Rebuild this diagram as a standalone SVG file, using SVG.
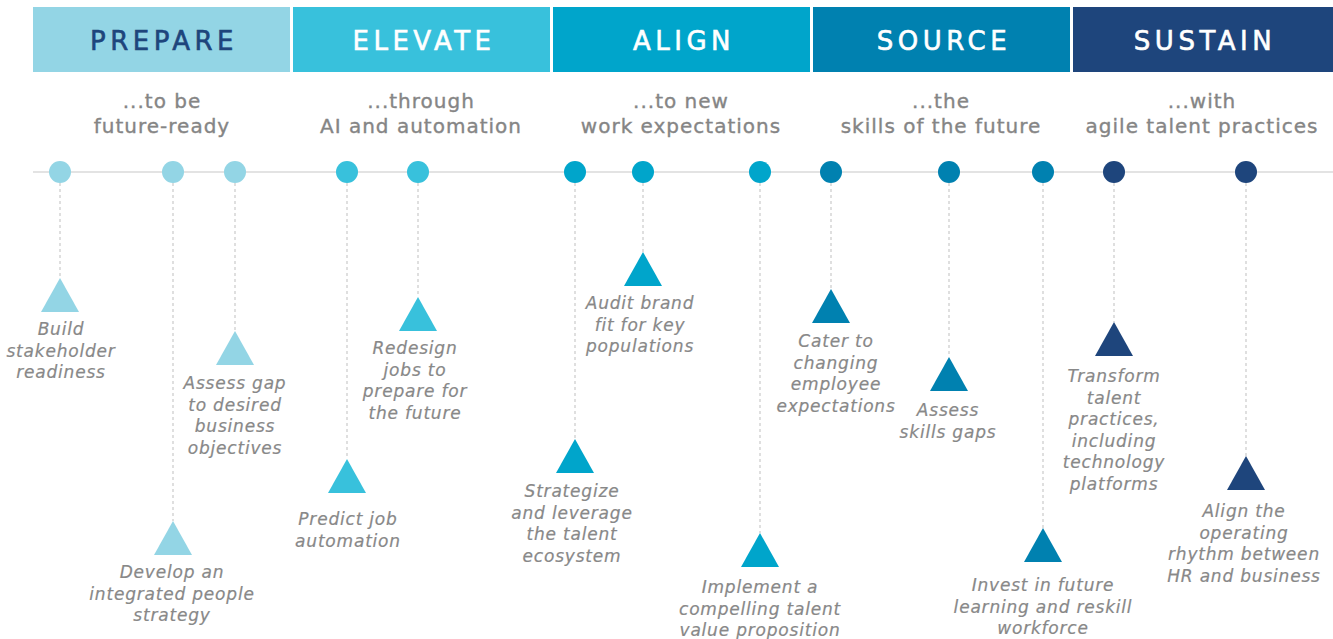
<svg xmlns="http://www.w3.org/2000/svg" width="1333" height="639" viewBox="0 0 1333 639">
<style>
.hd{font-family:"DejaVu Sans",sans-serif;font-size:26px;letter-spacing:4.5px;text-anchor:middle;stroke-width:0.6px}
.sub{font-family:"DejaVu Sans",sans-serif;font-size:20px;letter-spacing:1px;fill:#858585;stroke:#858585;stroke-width:0.35px;text-anchor:middle}
.lb{font-family:"DejaVu Sans",sans-serif;font-size:17px;font-style:italic;letter-spacing:0.8px;fill:#888;stroke:#888;stroke-width:0.2px;text-anchor:middle}
.dash{stroke:#bfbfbf;stroke-width:1;stroke-dasharray:3 3;fill:none}
.c1{fill:#93d5e5}.c2{fill:#38c1dc}.c3{fill:#00a5cb}.c4{fill:#0081b0}.c5{fill:#1e457c}
</style>
<defs>
<polygon id="tri" points="0,0 19,34 -19,34"/>
</defs>
<g id="headers">
<g id="h-prepare"><rect x="33" y="7" width="257" height="65" class="c1"/><text x="164" y="49.5" class="hd" fill="#1e457c" stroke="#1e457c">PREPARE</text></g>
<g id="h-elevate"><rect x="293" y="7" width="257" height="65" class="c2"/><text x="424" y="49.5" class="hd" fill="#fff" stroke="#fff">ELEVATE</text></g>
<g id="h-align"><rect x="553" y="7" width="257" height="65" class="c3"/><text x="684" y="49.5" class="hd" fill="#fff" stroke="#fff">ALIGN</text></g>
<g id="h-source"><rect x="813" y="7" width="257" height="65" class="c4"/><text x="944" y="49.5" class="hd" fill="#fff" stroke="#fff">SOURCE</text></g>
<g id="h-sustain"><rect x="1073" y="7" width="260" height="65" class="c5"/><text x="1205" y="49.5" class="hd" fill="#fff" stroke="#fff">SUSTAIN</text></g>
</g>
<g id="subtitles">
<text class="sub" x="162" y="108">...to be<tspan x="162" dy="25">future-ready</tspan></text>
<text class="sub" x="421" y="108">...through<tspan x="421" dy="25">AI and automation</tspan></text>
<text class="sub" x="681" y="108">...to new<tspan x="681" dy="25">work expectations</tspan></text>
<text class="sub" x="941" y="108">...the<tspan x="941" dy="25">skills of the future</tspan></text>
<text class="sub" x="1202" y="108">...with<tspan x="1202" dy="25">agile talent practices</tspan></text>
</g>
<g id="connectors">
<line x1="33" y1="172" x2="1333" y2="172" stroke="#c8c8c8" stroke-width="1.2"/>
<line class="dash" x1="60" y1="183" x2="60" y2="278"/>
<line class="dash" x1="173" y1="183" x2="173" y2="521"/>
<line class="dash" x1="235" y1="183" x2="235" y2="331"/>
<line class="dash" x1="347" y1="183" x2="347" y2="459"/>
<line class="dash" x1="418" y1="183" x2="418" y2="297"/>
<line class="dash" x1="575" y1="183" x2="575" y2="439"/>
<line class="dash" x1="643" y1="183" x2="643" y2="252"/>
<line class="dash" x1="760" y1="183" x2="760" y2="533"/>
<line class="dash" x1="831" y1="183" x2="831" y2="289"/>
<line class="dash" x1="949" y1="183" x2="949" y2="357"/>
<line class="dash" x1="1043" y1="183" x2="1043" y2="528"/>
<line class="dash" x1="1114" y1="183" x2="1114" y2="322"/>
<line class="dash" x1="1246" y1="183" x2="1246" y2="456"/>
</g>
<g id="n1"><circle cx="60" cy="172" r="11" class="c1"/><use href="#tri" x="60" y="278" class="c1"/><text class="lb" x="61" y="335">Build<tspan x="61" dy="21.5">stakeholder</tspan><tspan x="61" dy="21.5">readiness</tspan></text></g>
<g id="n2"><circle cx="173" cy="172" r="11" class="c1"/><use href="#tri" x="173" y="521" class="c1"/><text class="lb" x="172" y="578">Develop an<tspan x="172" dy="21.5">integrated people</tspan><tspan x="172" dy="21.5">strategy</tspan></text></g>
<g id="n3"><circle cx="235" cy="172" r="11" class="c1"/><use href="#tri" x="235" y="331" class="c1"/><text class="lb" x="235" y="389">Assess gap<tspan x="235" dy="21.5">to desired</tspan><tspan x="235" dy="21.5">business</tspan><tspan x="235" dy="21.5">objectives</tspan></text></g>
<g id="n4"><circle cx="347" cy="172" r="11" class="c2"/><use href="#tri" x="347" y="459" class="c2"/><text class="lb" x="348" y="525">Predict job<tspan x="348" dy="21.5">automation</tspan></text></g>
<g id="n5"><circle cx="418" cy="172" r="11" class="c2"/><use href="#tri" x="418" y="297" class="c2"/><text class="lb" x="415" y="354">Redesign<tspan x="415" dy="21.5">jobs to</tspan><tspan x="415" dy="21.5">prepare for</tspan><tspan x="415" dy="21.5">the future</tspan></text></g>
<g id="n6"><circle cx="575" cy="172" r="11" class="c3"/><use href="#tri" x="575" y="439" class="c3"/><text class="lb" x="572" y="497">Strategize<tspan x="572" dy="21.5">and leverage</tspan><tspan x="572" dy="21.5">the talent</tspan><tspan x="572" dy="21.5">ecosystem</tspan></text></g>
<g id="n7"><circle cx="643" cy="172" r="11" class="c3"/><use href="#tri" x="643" y="252" class="c3"/><text class="lb" x="640" y="309">Audit brand<tspan x="640" dy="21.5">fit for key</tspan><tspan x="640" dy="21.5">populations</tspan></text></g>
<g id="n8"><circle cx="760" cy="172" r="11" class="c3"/><use href="#tri" x="760" y="533" class="c3"/><text class="lb" x="760" y="593">Implement a<tspan x="760" dy="21.5">compelling talent</tspan><tspan x="760" dy="21.5">value proposition</tspan></text></g>
<g id="n9"><circle cx="831" cy="172" r="11" class="c4"/><use href="#tri" x="831" y="289" class="c4"/><text class="lb" x="836" y="347">Cater to<tspan x="836" dy="21.5">changing</tspan><tspan x="836" dy="21.5">employee</tspan><tspan x="836" dy="21.5">expectations</tspan></text></g>
<g id="n10"><circle cx="949" cy="172" r="11" class="c4"/><use href="#tri" x="949" y="357" class="c4"/><text class="lb" x="948" y="416">Assess<tspan x="948" dy="21.5">skills gaps</tspan></text></g>
<g id="n11"><circle cx="1043" cy="172" r="11" class="c4"/><use href="#tri" x="1043" y="528" class="c4"/><text class="lb" x="1043" y="591">Invest in future<tspan x="1043" dy="21.5">learning and reskill</tspan><tspan x="1043" dy="21.5">workforce</tspan></text></g>
<g id="n12"><circle cx="1114" cy="172" r="11" class="c5"/><use href="#tri" x="1114" y="322" class="c5"/><text class="lb" x="1114" y="382">Transform<tspan x="1114" dy="21.5">talent</tspan><tspan x="1114" dy="21.5">practices,</tspan><tspan x="1114" dy="21.5">including</tspan><tspan x="1114" dy="21.5">technology</tspan><tspan x="1114" dy="21.5">platforms</tspan></text></g>
<g id="n13"><circle cx="1246" cy="172" r="11" class="c5"/><use href="#tri" x="1246" y="456" class="c5"/><text class="lb" x="1244" y="517">Align the<tspan x="1244" dy="21.5">operating</tspan><tspan x="1244" dy="21.5">rhythm between</tspan><tspan x="1244" dy="21.5">HR and business</tspan></text></g>
</svg>
